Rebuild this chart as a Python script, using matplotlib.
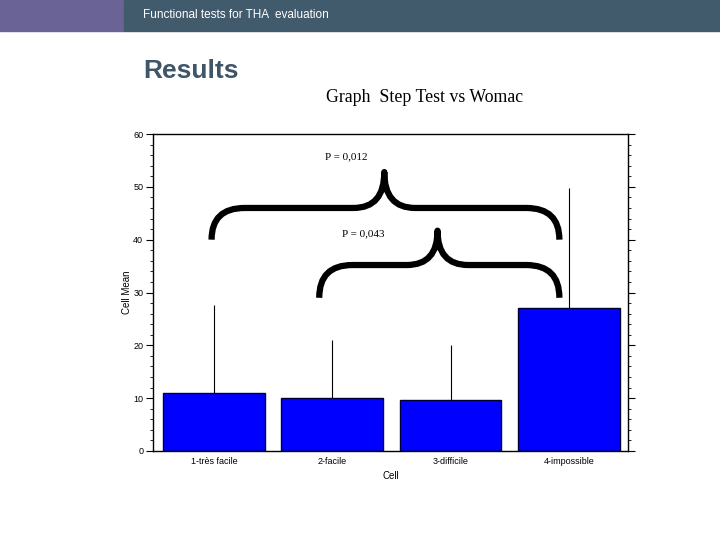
import numpy as np
import matplotlib
matplotlib.use('Agg')
import matplotlib.pyplot as plt
from matplotlib.path import Path
from matplotlib.patches import PathPatch, Rectangle
from matplotlib.ticker import MultipleLocator

# data
categories = ['1-très facile', '2-facile', '3-difficile', '4-impossible']
means = [11.0, 10.0, 9.7, 27.1]
upper_err = [16.6, 11.0, 10.4, 22.7]
p_labels = ['P = 0,012', 'P = 0,043']

fig = plt.figure(figsize=(7.2, 5.4), dpi=100)

# header band
fig.patches.append(Rectangle((0, 1 - 31/540), 124/720, 31/540, transform=fig.transFigure,
                             color='#6a6496', zorder=0))
fig.patches.append(Rectangle((124/720, 1 - 31/540), 1 - 124/720, 31/540, transform=fig.transFigure,
                             color='#425b6c', zorder=0))
fig.text(143/720, 1 - 15/540, 'Functional tests for THA  evaluation', color='white',
         fontsize=8.5, va='center', ha='left', family='Liberation Sans')
fig.text(143/720, 1 - 71/540, 'Results', color='#3f5568', fontsize=19, fontweight='bold',
         va='center', ha='left', family='Liberation Sans')
fig.text(326/720, 1 - 98/540, 'Graph  Step Test vs Womac', fontsize=12.8, va='center',
         ha='left', family='Liberation Serif')

ax = fig.add_axes([153/720, 1 - 451/540, 475/720, 317/540])
x = np.arange(1, len(categories) + 1)
ax.bar(x, means, width=0.86, color='#0000ff', edgecolor='#000033', linewidth=1.0, zorder=2)
ax.vlines(x, means, np.array(means) + np.array(upper_err), color='black', linewidth=0.8, zorder=3)

ax.set_xlim(0.485, 4.5)
ax.set_ylim(0, 60)
ax.set_xticks(x)
ax.set_xticklabels(categories, fontsize=6.5, family='Liberation Sans')
ax.yaxis.set_major_locator(MultipleLocator(10))
ax.yaxis.set_minor_locator(MultipleLocator(2))
ax.tick_params(axis='y', which='both', left=True, right=True, labelsize=6.5, direction='out', pad=2)
ax.tick_params(axis='y', which='major', length=5)
ax.tick_params(axis='y', which='minor', length=2.5)
ax.tick_params(axis='x', length=3, direction='in', pad=4)
for lbl in ax.get_yticklabels():
    lbl.set_family('Liberation Sans')
ax.set_ylabel('Cell Mean', fontsize=7, family='Liberation Sans', labelpad=1)
ax.set_xlabel('Cell', fontsize=7, family='Liberation Sans', labelpad=4)
for s in ax.spines.values():
    s.set_linewidth(1.0)


def brace(ax, x0, x1, xm, y, depth, r, c, h, lw=4.5):
    verts = [(x0, y - depth), (x0, y), (x0 + r, y),
             (xm - c, y), (xm, y), (xm, y + h),
             (xm, y), (xm + c, y),
             (x1 - r, y), (x1, y), (x1, y - depth)]
    codes = [Path.MOVETO, Path.CURVE3, Path.CURVE3,
             Path.LINETO, Path.CURVE3, Path.CURVE3,
             Path.CURVE3, Path.CURVE3,
             Path.LINETO, Path.CURVE3, Path.CURVE3]
    ax.add_patch(PathPatch(Path(verts, codes), fill=False, lw=lw, color='black',
                           capstyle='butt', joinstyle='round', zorder=4, clip_on=False))


brace(ax, 0.98, 3.92, 2.44, 46.0, 6.0, 0.28, 0.26, 6.8)
brace(ax, 1.89, 3.92, 2.89, 35.2, 6.2, 0.28, 0.26, 6.5)
ax.text(1.94, 55.6, p_labels[0], fontsize=8, family='Liberation Serif', va='center')
ax.text(2.08, 41.2, p_labels[1], fontsize=8, family='Liberation Serif', va='center')

fig.savefig('out.png', dpi=100)
